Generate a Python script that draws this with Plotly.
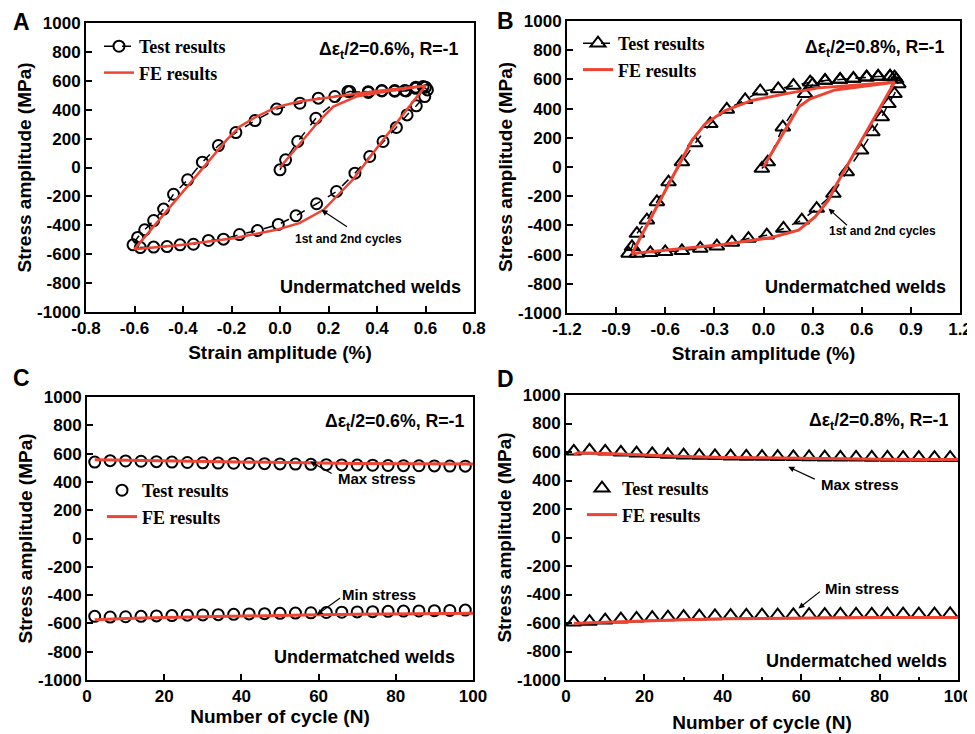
import plotly.graph_objects as go

# ---------------- data ----------------
# Panel A: hysteresis loop, strain amplitude 0.6 %
a_test_strain = [0.00, 0.023, 0.073, 0.148, 0.28, 0.364, 0.42, 0.473, 0.514, 0.56, 0.59, 0.608,
                 0.597, 0.562, 0.524, 0.48, 0.425, 0.37, 0.309, 0.233, 0.151, 0.066, -0.007,
                 -0.093, -0.167, -0.233, -0.295, -0.357, -0.412, -0.466, -0.521, -0.576, -0.606,
                 -0.587, -0.558, -0.521, -0.48, -0.439, -0.381, -0.32, -0.254, -0.182, -0.103,
                 -0.014, 0.082, 0.158, 0.226, 0.288, 0.364, 0.42, 0.473, 0.52, 0.56, 0.60]
a_test_stress = [-16, 53, 180, 341, 526, 519, 533, 533, 533, 556, 560, 537,
                 491, 427, 364, 277, 180, 76, -39, -166, -251, -334, -394,
                 -436, -464, -496, -505, -531, -535, -547, -551, -554, -535,
                 -484, -431, -367, -288, -185, -85, 37, 152, 242, 325,
                 404, 445, 480, 491, 526, 525, 530, 528, 530, 548, 556]
a_fe_strain = [0, 0.165, 0.22, 0.315, 0.45, 0.6, 0.425, 0.30, 0.18, 0.08, -0.014, -0.19, -0.40,
               -0.6, -0.22, -0.165, -0.096, -0.014, 0.08, 0.22, 0.40, 0.6]
a_fe_stress = [0, 330, 422, 491, 530, 565, 191, -85, -293, -385, -431, -489, -535,
               -565, 191, 284, 353, 418, 457, 491, 530, 565]

# Panel B: hysteresis loop, strain amplitude 0.8 %
b_test_strain = [-0.01, 0.026, 0.118, 0.254, 0.30, 0.376, 0.468, 0.549, 0.63, 0.70, 0.773, 0.80,
                 0.823, 0.80, 0.763, 0.722, 0.665, 0.596, 0.508, 0.427, 0.325, 0.234, 0.122,
                 0.02, -0.092, -0.193, -0.285, -0.386, -0.498, -0.60, -0.691, -0.773, -0.824,
                 -0.803, -0.773, -0.712, -0.651, -0.58, -0.498, -0.417, -0.325, -0.224, -0.112,
                 -0.02, 0.09, 0.183, 0.285, 0.376, 0.468, 0.549, 0.63, 0.70, 0.773, 0.81]
b_test_stress = [-11, 34, 273, 501, 565, 592, 599, 606, 615, 620, 620, 615,
                 569, 501, 433, 342, 239, 114, -34, -182, -285, -364, -421,
                 -467, -490, -517, -542, -558, -574, -581, -588, -592, -592,
                 -547, -456, -364, -239, -103, 34, 164, 296, 394, 460,
                 519, 535, 558, 581, 592, 599, 606, 615, 620, 620, 600]
b_fe_strain = [0, 0.214, 0.285, 0.437, 0.80, 0.437, 0.397, 0.315, 0.214, 0.05, -0.275, -0.803,
               -0.437, -0.356, -0.234, -0.071, 0.132, 0.336, 0.80]
b_fe_stress = [0, 410, 467, 528, 581, -137, -228, -342, -433, -483, -535, -592,
               182, 296, 387, 456, 501, 542, 581]

# Panels C and D: peak stresses vs cycle number
test_cycles = [2, 6, 10, 14, 18, 22, 26, 30, 34, 38, 42, 46, 50, 54, 58, 62, 66, 70, 74, 78,
               82, 86, 90, 94, 98]
c_test_max = [540, 550, 548, 546, 543, 540, 537, 535, 533, 532, 530, 529, 527, 526, 524, 522,
              520, 519, 518, 516, 515, 514, 513, 512, 511]
c_test_min = [-550, -555, -553, -550, -547, -545, -542, -540, -538, -536, -533, -531, -529,
              -527, -525, -523, -521, -519, -517, -515, -513, -512, -510, -508, -506]
c_fe_cycles = [2, 10, 20, 30, 40, 50, 60, 70, 80, 90, 100]
c_fe_max = [557, 553, 548, 543, 539, 536, 533, 530, 528, 527, 526]
c_fe_min = [-575, -565, -558, -552, -547, -543, -539, -535, -532, -530, -528]

d_test_max = [605, 612, 605, 598, 592, 587, 582, 578, 575, 573, 571, 569, 568, 567, 566, 565,
              564, 563, 563, 562, 562, 561, 561, 560, 560]
d_test_min = [-595, -590, -580, -573, -567, -562, -558, -555, -552, -550, -548, -546, -545,
              -544, -543, -542, -541, -540, -540, -539, -538, -538, -537, -537, -536]
d_fe_cycles = [2, 3, 10, 20, 30, 40, 50, 60, 70, 80, 90, 100]
d_fe_max = [582, 594, 590, 578, 568, 562, 558, 555, 552, 550, 548, 547]
d_fe_min = [-604, -602, -595, -585, -577, -571, -567, -565, -563, -562, -561, -561]

# tick labels (hyphen minus as in the reference)
stress_ticks = [-1000, -800, -600, -400, -200, 0, 200, 400, 600, 800, 1000]
stress_labels = ["-1000", "-800", "-600", "-400", "-200", "0", "200", "400", "600", "800", "1000"]
strain_a_ticks = [-0.8, -0.6, -0.4, -0.2, 0.0, 0.2, 0.4, 0.6, 0.8]
strain_a_labels = ["-0.8", "-0.6", "-0.4", "-0.2", "0.0", "0.2", "0.4", "0.6", "0.8"]
strain_b_ticks = [-1.2, -0.9, -0.6, -0.3, 0.0, 0.3, 0.6, 0.9, 1.2]
strain_b_labels = ["-1.2", "-0.9", "-0.6", "-0.3", "0.0", "0.3", "0.6", "0.9", "1.2"]
cycle_ticks = [0, 20, 40, 60, 80, 100]
cycle_labels = ["0", "20", "40", "60", "80", "100"]

# ---------------- styling ----------------
# the page body adds an 8 px offset, so the figure is 8 px smaller and all
# positions (given in screenshot pixels) are shifted by 8 px
OFF = 8
W, H = 975 - OFF, 734 - OFF
RED = "#EE4433"
SANS = "Liberation Sans"
SERIF = "Liberation Serif"


def px(x):
    return (x - OFF) / W


def py(y):
    return 1 - (y - OFF) / H


fig = go.Figure()

circ = dict(symbol="circle-open", size=11, color="black", line=dict(width=2))
tri = dict(symbol="triangle-up-open", size=13, color="black", line=dict(width=2))

# Panel A
fig.add_trace(go.Scatter(x=a_test_strain, y=a_test_stress, mode="lines+markers", name="Test results",
                         line=dict(color="black", width=1.5, dash="dash"), marker=circ,
                         xaxis="x", yaxis="y", legend="legend"))
fig.add_trace(go.Scatter(x=a_fe_strain, y=a_fe_stress, mode="lines", name="FE results",
                         line=dict(color=RED, width=2.5), xaxis="x", yaxis="y", legend="legend"))
# Panel B
fig.add_trace(go.Scatter(x=b_test_strain, y=b_test_stress, mode="lines+markers", name="Test results",
                         line=dict(color="black", width=1.5, dash="dash"), marker=tri,
                         xaxis="x2", yaxis="y2", legend="legend2"))
fig.add_trace(go.Scatter(x=b_fe_strain, y=b_fe_stress, mode="lines", name="FE results",
                         line=dict(color=RED, width=3), xaxis="x2", yaxis="y2", legend="legend2"))
# Panel C
fig.add_trace(go.Scatter(x=test_cycles, y=c_test_max, mode="markers", name="Test results", marker=circ,
                         xaxis="x3", yaxis="y3", legend="legend3"))
fig.add_trace(go.Scatter(x=test_cycles, y=c_test_min, mode="markers", name="Test results", showlegend=False,
                         marker=circ, xaxis="x3", yaxis="y3", legend="legend3"))
fig.add_trace(go.Scatter(x=c_fe_cycles, y=c_fe_max, mode="lines", name="FE results",
                         line=dict(color=RED, width=3), xaxis="x3", yaxis="y3", legend="legend3"))
fig.add_trace(go.Scatter(x=c_fe_cycles, y=c_fe_min, mode="lines", name="FE results", showlegend=False,
                         line=dict(color=RED, width=3), xaxis="x3", yaxis="y3", legend="legend3"))
# Panel D
fig.add_trace(go.Scatter(x=test_cycles, y=d_test_max, mode="markers", name="Test results", marker=tri,
                         xaxis="x4", yaxis="y4", legend="legend4"))
fig.add_trace(go.Scatter(x=test_cycles, y=d_test_min, mode="markers", name="Test results", showlegend=False,
                         marker=tri, xaxis="x4", yaxis="y4", legend="legend4"))
fig.add_trace(go.Scatter(x=d_fe_cycles, y=d_fe_max, mode="lines", name="FE results",
                         line=dict(color=RED, width=3), xaxis="x4", yaxis="y4", legend="legend4"))
fig.add_trace(go.Scatter(x=d_fe_cycles, y=d_fe_min, mode="lines", name="FE results", showlegend=False,
                         line=dict(color=RED, width=3), xaxis="x4", yaxis="y4", legend="legend4"))

tickfont = dict(family=SANS, size=17, color="black", weight="bold")
titlefont = dict(family=SANS, size=19, color="black", weight="bold")


def xax(domain, rng, tv, tt, title, anchor, standoff, minor=None):
    d = dict(domain=domain, range=rng, tickmode="array", tickvals=tv, ticktext=tt, anchor=anchor,
             showline=True, mirror=True, linewidth=2, linecolor="black",
             ticks="inside", ticklen=6, tickwidth=2, tickcolor="black", automargin=False,
             showgrid=False, zeroline=False, tickfont=tickfont,
             title=dict(text=title, font=titlefont, standoff=standoff))
    if minor:
        d["minor"] = minor
    return d


def yax(domain, anchor):
    return dict(domain=domain, range=[-1000, 1000], tickmode="array", tickvals=stress_ticks,
                ticktext=stress_labels, anchor=anchor,
                showline=True, mirror=True, linewidth=2, linecolor="black",
                ticks="inside", ticklen=6, tickwidth=2, tickcolor="black", automargin=False,
                showgrid=False, zeroline=False, tickfont=tickfont,
                title=dict(text="Stress amplitude (MPa)", font=titlefont, standoff=0))


minor_d = dict(ticks="inside", tickvals=[10, 30, 50, 70, 90], ticklen=3, tickwidth=2, tickcolor="black")

legfont = dict(family=SERIF, size=18, color="black", weight="bold")


def leg(x, y):
    return dict(x=px(x), y=py(y), xanchor="left", yanchor="top", font=legfont,
                bgcolor="rgba(0,0,0,0)", tracegroupgap=0, itemwidth=30)


fig.update_layout(
    width=W, height=H, margin=dict(l=0, r=0, t=0, b=0, autoexpand=False),
    paper_bgcolor="white", plot_bgcolor="white",
    xaxis=xax([px(86), px(474)], [-0.8, 0.8], strain_a_ticks, strain_a_labels,
              "Strain amplitude (%)", "y", 8),
    yaxis=yax([py(312), py(23)], "x"),
    xaxis2=xax([px(567), px(960)], [-1.2, 1.2], strain_b_ticks, strain_b_labels,
               "Strain amplitude (%)", "y2", 8),
    yaxis2=yax([py(313), py(21)], "x2"),
    xaxis3=xax([px(87), px(473)], [0, 100], cycle_ticks, cycle_labels,
               "Number of cycle (N)", "y3", 0),
    yaxis3=yax([py(680), py(397)], "x3"),
    xaxis4=xax([px(566), px(958)], [0, 100], cycle_ticks, cycle_labels,
               "Number of cycle (N)", "y4", 10, minor_d),
    yaxis4=yax([py(680), py(395)], "x4"),
    legend=leg(99, 28),
    legend2=leg(578, 25),
    legend3=leg(102, 472),
    legend4=leg(582, 470),
    showlegend=True,
)

ann = []
# panel letters
for t, x, y in [("A", 21, 22), ("B", 505, 21), ("C", 21, 378), ("D", 505, 379)]:
    ann.append(dict(text=t, x=px(x), y=py(y), xref="paper", yref="paper", showarrow=False,
                    xanchor="center", yanchor="middle",
                    font=dict(family=SANS, size=23, color="black", weight="bold")))

labfont = dict(family=SANS, size=17.7, color="black", weight="bold")
for t, x, y in [("Δε<sub>t</sub>/2=0.6%, R=-1", 460, 51), ("Δε<sub>t</sub>/2=0.8%, R=-1", 946, 49),
                ("Δε<sub>t</sub>/2=0.6%, R=-1", 466, 422), ("Δε<sub>t</sub>/2=0.8%, R=-1", 950, 421)]:
    ann.append(dict(text=t, x=px(x), y=py(y), xref="paper", yref="paper", showarrow=False,
                    xanchor="right", yanchor="middle", font=labfont))
for x, y in [(463, 287), (948, 287), (457, 657), (949, 661)]:
    ann.append(dict(text="Undermatched welds", x=px(x), y=py(y), xref="paper", yref="paper",
                    showarrow=False, xanchor="right", yanchor="middle",
                    font=dict(family=SANS, size=18, color="black", weight="bold")))
smallfont = dict(family=SANS, size=12, color="black", weight="bold")
for x, y in [(348, 239), (882, 231)]:
    ann.append(dict(text="1st and 2nd cycles", x=px(x), y=py(y), xref="paper", yref="paper",
                    showarrow=False, xanchor="center", yanchor="middle", font=smallfont))
stressfont = dict(family=SANS, size=15, color="black", weight="bold")
for t, x, y in [("Max stress", 377, 478), ("Min stress", 379, 594),
                ("Max stress", 860, 484), ("Min stress", 862, 588)]:
    ann.append(dict(text=t, x=px(x), y=py(y), xref="paper", yref="paper",
                    showarrow=False, xanchor="center", yanchor="middle", font=stressfont))

# arrows (head at data point, tail offset in pixels)
for xr, yr, x, y, ax, ay in [("x", "y", 0.171, -293, 27, 18),
                             ("x2", "y2", 0.397, -285, 20, 18),
                             ("x3", "y3", 57.8, 545, 23, 13),
                             ("x3", "y3", 59.5, -540, 25, -18),
                             ("x4", "y4", 56.7, 496, 28, 13),
                             ("x4", "y4", 59.3, -498, 23, -18)]:
    ann.append(dict(text="", x=x, y=y, xref=xr, yref=yr, ax=ax, ay=ay, showarrow=True,
                    arrowhead=2, arrowsize=1, arrowwidth=1.2, arrowcolor="black"))

fig.update_layout(annotations=ann)

fig.write_html("out.html")
